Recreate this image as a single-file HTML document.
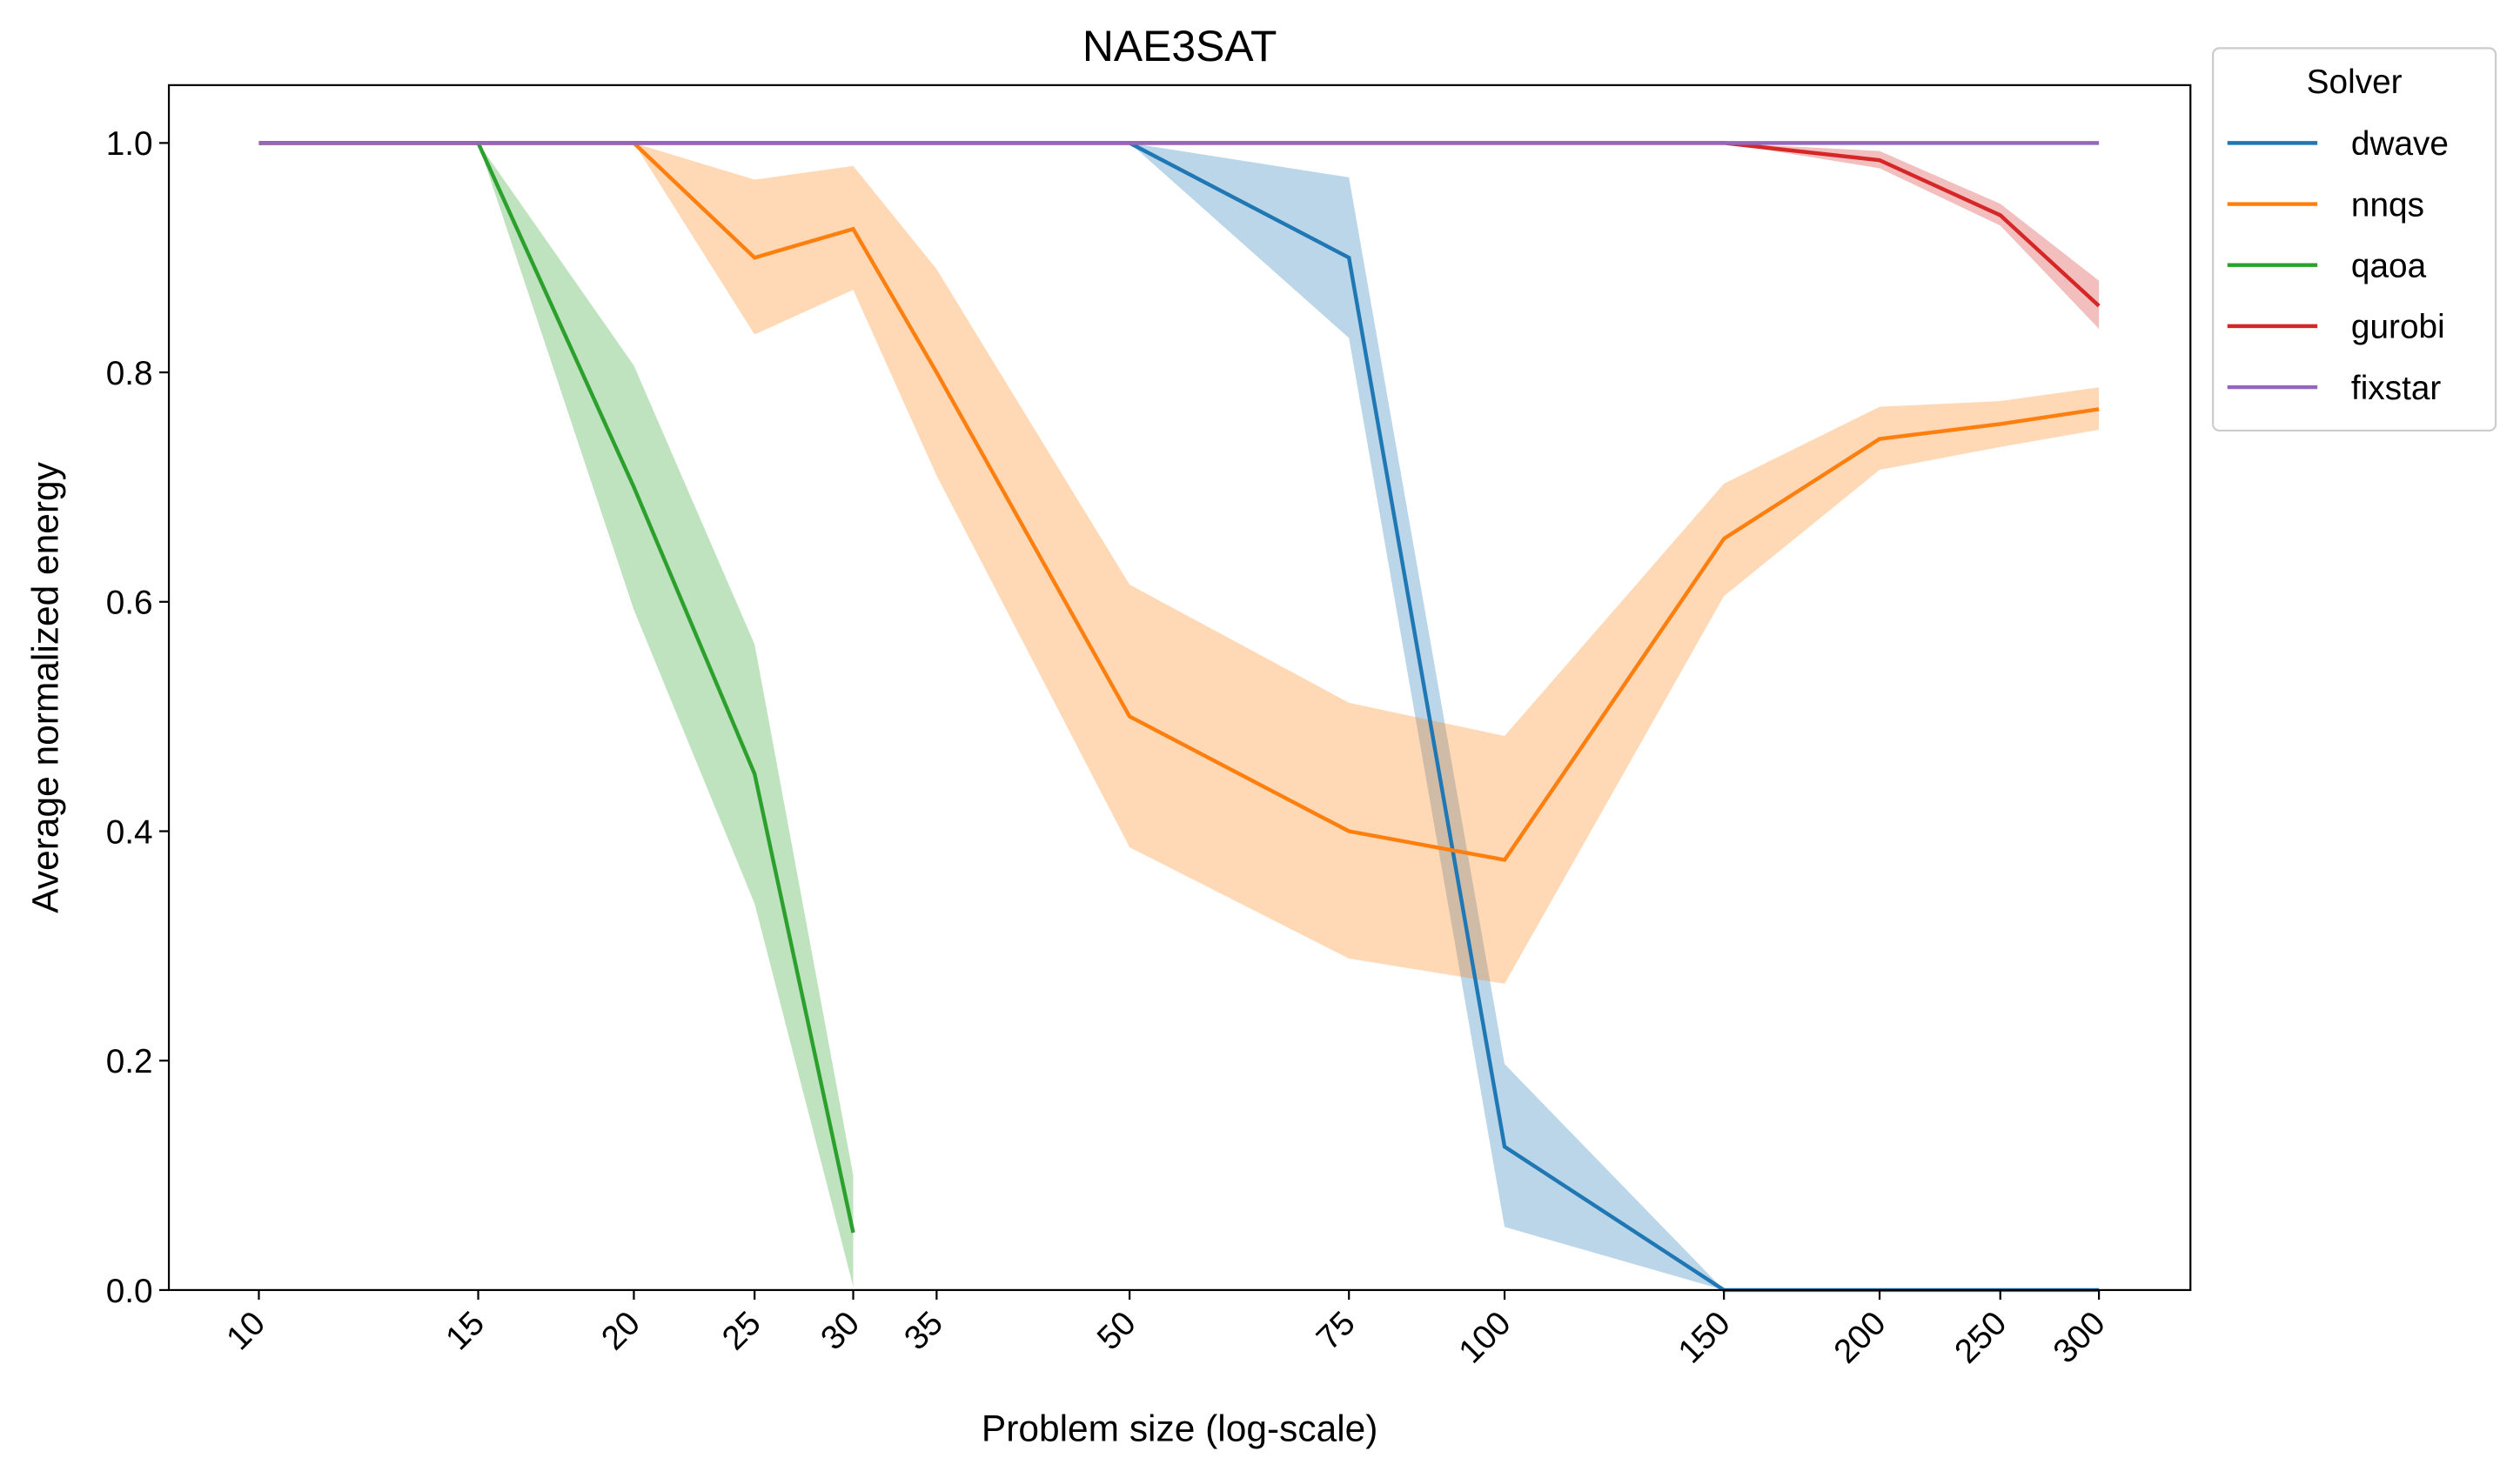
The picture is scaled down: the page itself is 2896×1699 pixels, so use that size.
<!DOCTYPE html>
<html><head><meta charset="utf-8"><style>html,body{margin:0;padding:0;background:#fff}svg{display:block}text{font-family:"Liberation Sans",Arial,sans-serif;fill:#000}</style></head>
<body>
<svg id="chart" width="2896" height="1699" viewBox="0 0 1568 920" xmlns="http://www.w3.org/2000/svg">
<rect width="1568" height="920" fill="#fff"/>
<g id="bands"></g><g id="lines"></g><g id="axes"></g>
</svg>
<script>
const sizes=[10,15,20,25,30,35,50,75,100,150,200,250,300];
const tickLabels=["10","15","20","25","30","35","50","75","100","150","200","250","300"];
const yTicks=[0,0.2,0.4,0.6,0.8,1.0];
const dwaveX=[10,15,20,25,30,35,50,75,100,150,200,250,300];
const dwaveY=[1,1,1,1,1,1,1,0.9,0.125,0,0,0,0];
const dwaveLo=[1,1,1,1,1,1,1,0.83,0.055,0,0,0,0];
const dwaveHi=[1,1,1,1,1,1,1,0.97,0.197,0,0,0,0];
const nnqsX=[10,15,20,25,30,35,50,75,100,150,200,250,300];
const nnqsY=[1,1,1,0.9,0.925,0.8,0.5,0.4,0.375,0.655,0.742,0.755,0.768];
const nnqsLo=[1,1,1,0.833,0.872,0.71,0.386,0.289,0.267,0.605,0.715,0.735,0.75];
const nnqsHi=[1,1,1,0.968,0.98,0.89,0.615,0.512,0.483,0.703,0.77,0.775,0.787];
const qaoaX=[10,15,20,25,30];
const qaoaY=[1,1,0.7,0.45,0.05];
const qaoaLo=[1,1,0.593,0.337,0.003];
const qaoaHi=[1,1,0.806,0.563,0.1];
const gurobiX=[10,15,20,25,30,35,50,75,100,150,200,250,300];
const gurobiY=[1,1,1,1,1,1,1,1,1,1,0.985,0.937,0.858];
const gurobiLo=[1,1,1,1,1,1,1,1,1,1,0.978,0.928,0.838];
const gurobiHi=[1,1,1,1,1,1,1,1,1,1,0.993,0.947,0.88];
const fixX=[10,15,20,25,30,35,50,75,100,150,200,250,300];
const fixY=[1,1,1,1,1,1,1,1,1,1,1,1,1];

const L=105,R=1363,T=53,B=803;
const xs=v=>161+775.2*Math.log10(v/10);
const ys=v=>B-v*714;
const NS="http://www.w3.org/2000/svg";
function mk(tag,attrs,parent,text){const e=document.createElementNS(NS,tag);for(const k in attrs)e.setAttribute(k,attrs[k]);if(text!==undefined)e.textContent=text;document.getElementById(parent)?document.getElementById(parent).appendChild(e):parent.appendChild(e);return e;}
const series=[
 {n:"dwave",c:"#1f77b4",x:dwaveX,y:dwaveY,lo:dwaveLo,hi:dwaveHi},
 {n:"nnqs",c:"#ff7f0e",x:nnqsX,y:nnqsY,lo:nnqsLo,hi:nnqsHi},
 {n:"qaoa",c:"#2ca02c",x:qaoaX,y:qaoaY,lo:qaoaLo,hi:qaoaHi},
 {n:"gurobi",c:"#d62728",x:gurobiX,y:gurobiY,lo:gurobiLo,hi:gurobiHi},
 {n:"fixstar",c:"#9467bd",x:fixX,y:fixY}
];
series.forEach(s=>{
 if(s.lo){
  let d=s.x.map((v,i)=>(i?"L":"M")+xs(v)+","+ys(s.hi[i])).join("");
  for(let i=s.x.length-1;i>=0;i--)d+="L"+xs(s.x[i])+","+ys(s.lo[i]);
  const p=mk("path",{d:d+"Z",fill:s.c,"fill-opacity":0.3,stroke:"none"},"bands");
  
  
 }
 const pts=s.x.map((v,i)=>xs(v)+","+ys(s.y[i])).join(" ");
 const l=mk("polyline",{points:pts,fill:"none",stroke:s.c,"stroke-width":2.4},"lines");
 
 
});
const ax=document.getElementById("axes");
const fr=mk("rect",{x:L,y:T,width:R-L,height:B-T,fill:"none",stroke:"#000","stroke-width":1.2},ax);


sizes.forEach((v,i)=>{
 const x=xs(v);
 mk("line",{x1:x,x2:x,y1:B,y2:B+6,stroke:"#000","stroke-width":1.2},ax);
 const t=mk("text",{x:x+5,y:B+22,"font-size":21,"text-anchor":"end",transform:`rotate(-45 ${x+5} ${B+22})`},ax,tickLabels[i]);
 
 
});
yTicks.forEach(v=>{
 const y=ys(v);
 mk("line",{x1:L-6,x2:L,y1:y,y2:y,stroke:"#000","stroke-width":1.2},ax);
 const t=mk("text",{x:L-10,y:y+7.5,"font-size":21,"text-anchor":"end"},ax,v.toFixed(1));
 
 
});
let t=mk("text",{x:734,y:38,"font-size":27,"text-anchor":"middle"},ax,"NAE3SAT");

t=mk("text",{x:734,y:897,"font-size":23,"text-anchor":"middle"},ax,"Problem size (log-scale)");

t=mk("text",{x:36,y:428,"font-size":23,"text-anchor":"middle",transform:"rotate(-90 36 428)"},ax,"Average normalized energy");

const lg=mk("g",{},ax);

mk("rect",{x:1377,y:30,width:176,height:238,rx:4,fill:"#fff",stroke:"#ccc","stroke-width":1.2},lg);
mk("text",{x:1465,y:58,"font-size":21,"text-anchor":"middle"},lg,"Solver");
series.forEach((s,i)=>{
 const y=89+38*i;
 const g=mk("g",{},lg);
 
 
 mk("line",{x1:1386,x2:1442,y1:y,y2:y,stroke:s.c,"stroke-width":2.4},g);
 mk("text",{x:1463,y:y+7.5,"font-size":21},g,s.n);
});
</script>
</body></html>
